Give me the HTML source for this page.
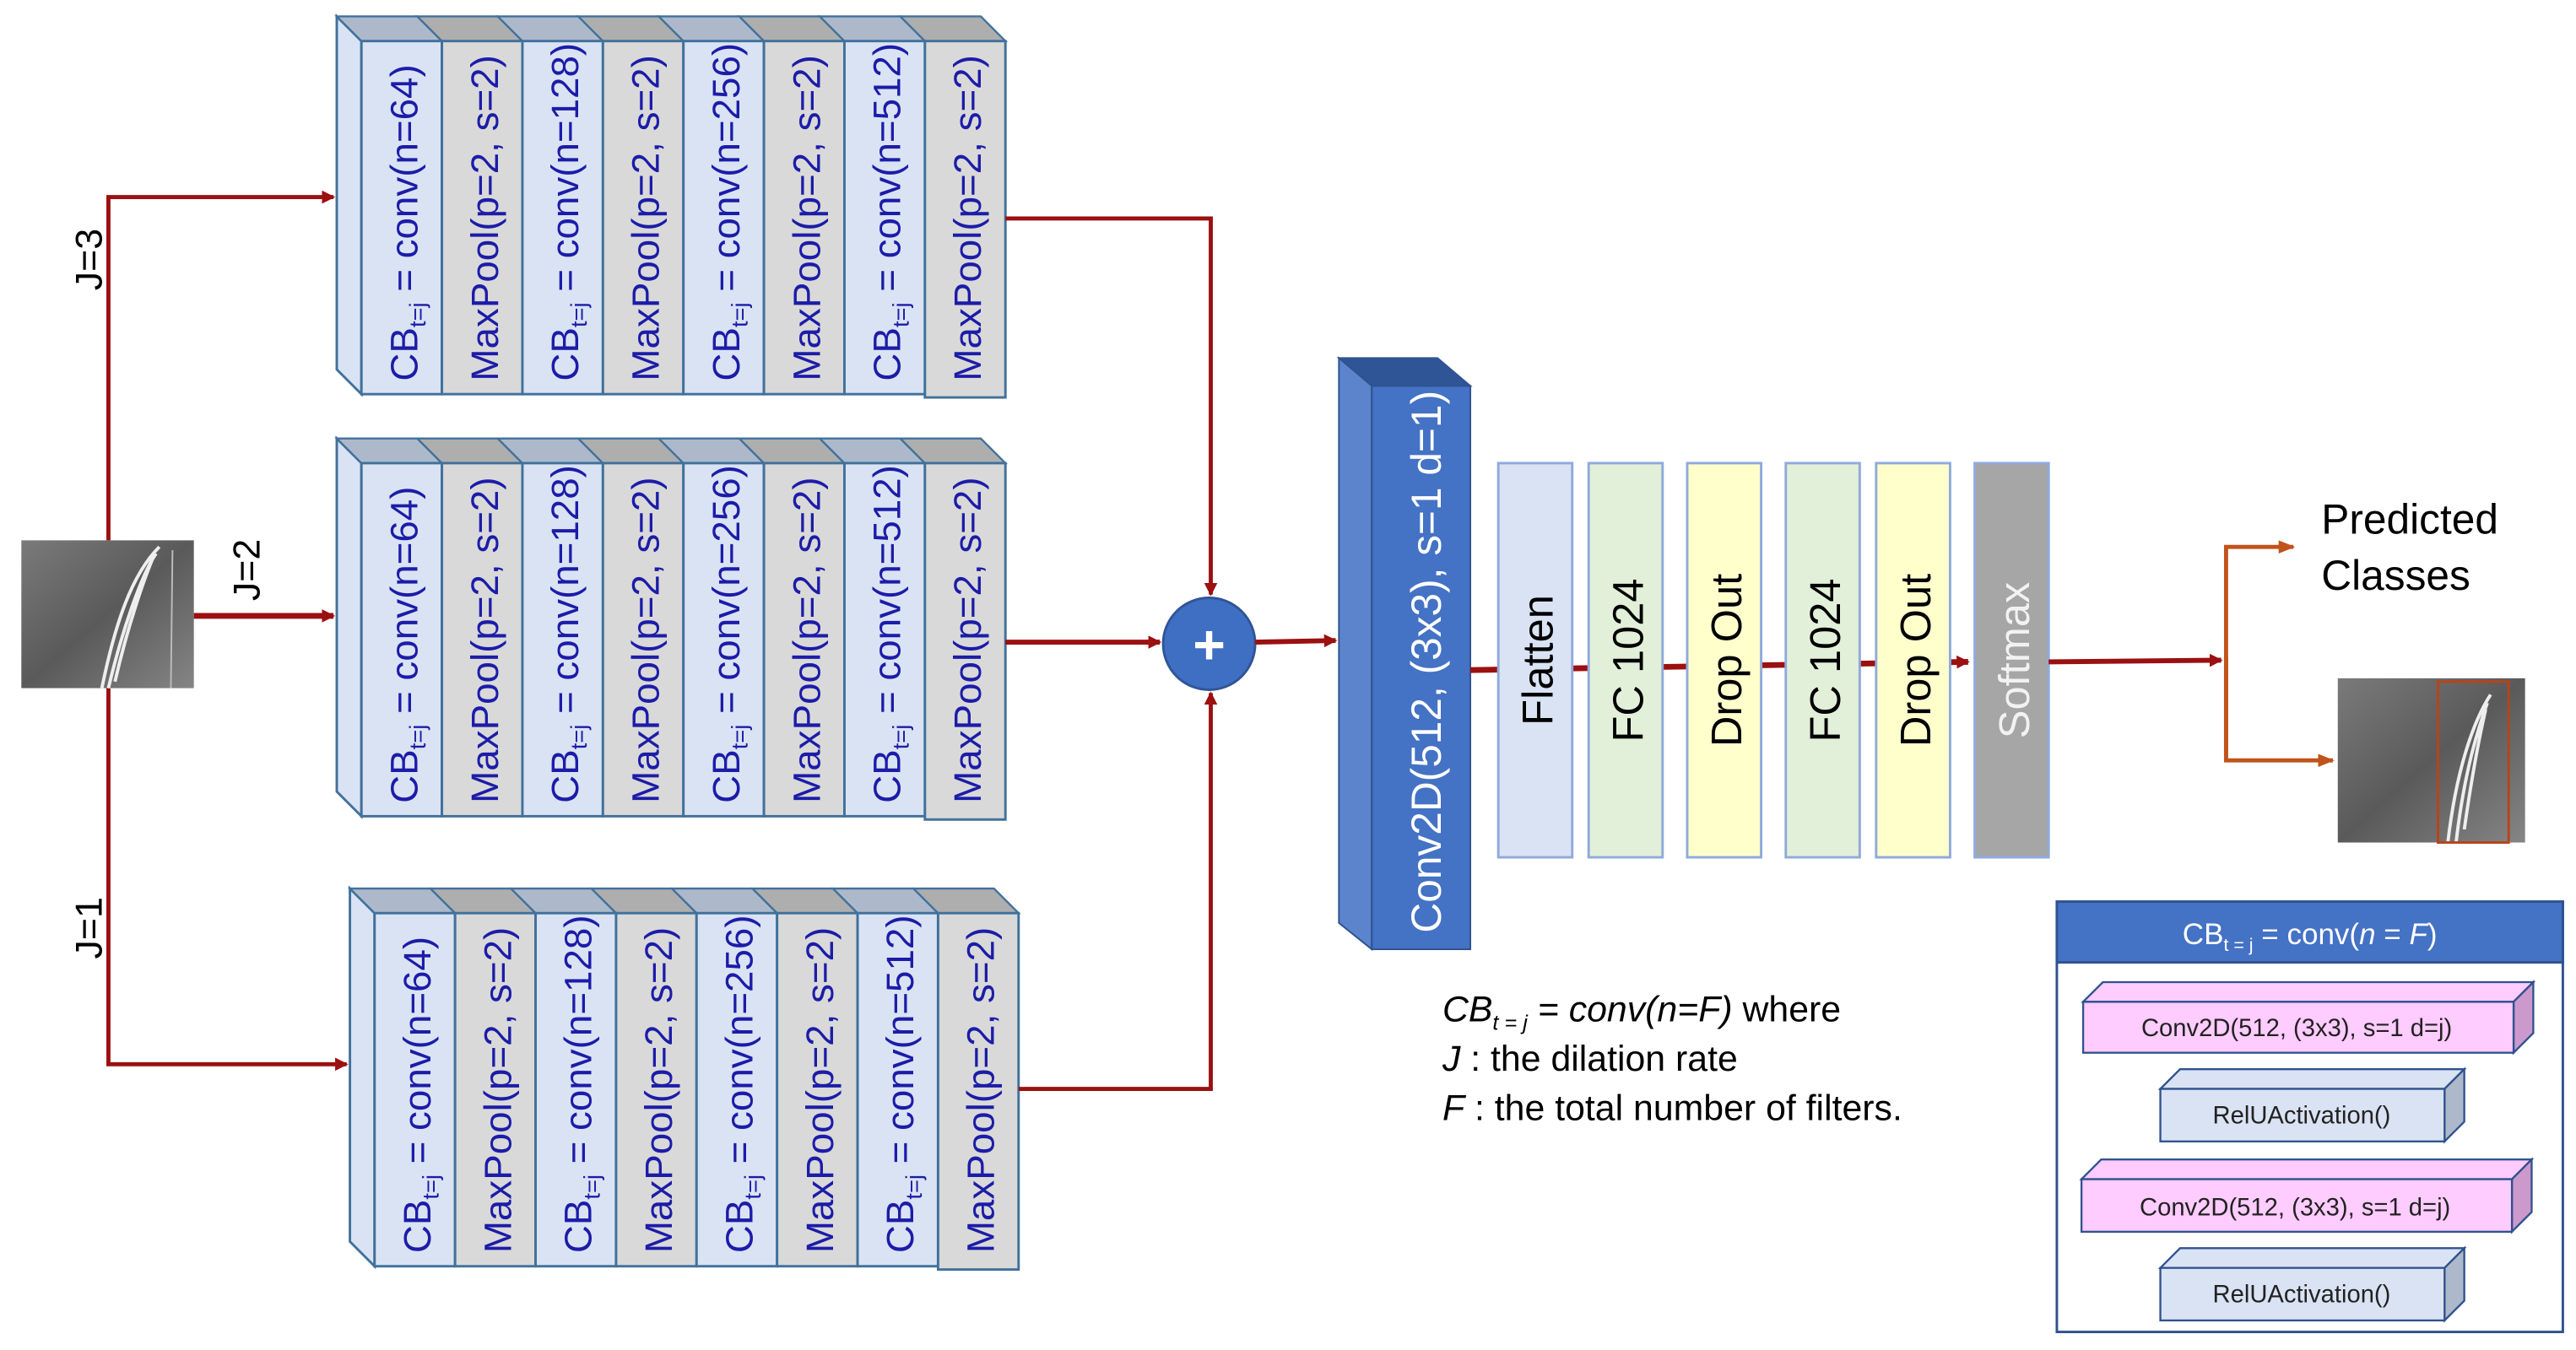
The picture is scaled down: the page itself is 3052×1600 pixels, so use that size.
<!DOCTYPE html>
<html><head><meta charset="utf-8"><style>
html,body{margin:0;padding:0;background:#fff;}
svg{display:block;}
text{font-family:"Liberation Sans",sans-serif;}
.s{font-size:23.5px;fill:#1c1ca8;}
.sub{font-size:14px;}
.cb{fill:#dae3f3;stroke:#41719c;stroke-width:1.5;}
.mp{fill:#d9d9d9;stroke:#41719c;stroke-width:1.5;}
.tcb{fill:#adb9ca;stroke:#41719c;stroke-width:1.2;}
.tmp{fill:#aeaeae;stroke:#41719c;stroke-width:1.2;}
.ln{stroke:#9b1010;stroke-width:2.5;fill:none;}
.or{stroke:#c0531b;stroke-width:2.5;fill:none;}
</style></head><body>
<svg width="3052" height="1600" viewBox="0 0 1568 822" preserveAspectRatio="none" xmlns="http://www.w3.org/2000/svg">
<defs>
<marker id="a" markerWidth="8" markerHeight="8" refX="7" refY="4" orient="auto" markerUnits="userSpaceOnUse"><path d="M0,0 L8,4 L0,8 Z" fill="#9b1010"/></marker>
<marker id="o" markerWidth="10" markerHeight="8" refX="9" refY="4" orient="auto" markerUnits="userSpaceOnUse"><path d="M0,0 L10,4 L0,8 Z" fill="#c0531b"/></marker>
<linearGradient id="img" x1="0" y1="0" x2="1" y2="1"><stop offset="0" stop-color="#7a7a7a"/><stop offset="0.5" stop-color="#5a5a5a"/><stop offset="1" stop-color="#858585"/></linearGradient>
</defs>

<path class="ln" d="M66,329 L66,120 L203,120" marker-end="url(#a)"/>
<path class="ln" d="M66,419 L66,648 L211,648" marker-end="url(#a)"/>
<path class="ln" d="M118,375 L203,375" style="stroke-width:3.5" marker-end="url(#a)"/>
<text x="62" y="158" font-size="23" transform="rotate(-90 62 158)" text-anchor="middle">J=3</text>
<text x="158" y="347" font-size="23" transform="rotate(-90 158 347)" text-anchor="middle">J=2</text>
<text x="62" y="565" font-size="23" transform="rotate(-90 62 565)" text-anchor="middle">J=1</text>

<rect x="13" y="329" width="105" height="90" fill="url(#img)"/>
<path d="M62,419 C70,380 80,350 97,333 M66,419 C74,385 86,350 95,337 M70,415 C78,380 88,352 93,340" stroke="#eee" stroke-width="2" fill="none"/>
<line x1="105" y1="335" x2="104" y2="419" stroke="#bbb" stroke-width="1"/>

<g transform="translate(205,10)">
<polygon points="0,0 15,15 15,230 0,215" fill="#dae3f3" stroke="#41719c" stroke-width="1.5"/>
<polygon class="tcb" points="0,0 49,0 64,15 15,15"/><polygon class="tmp" points="49,0 98,0 113,15 64,15"/>
<polygon class="tcb" points="98,0 147,0 162,15 113,15"/><polygon class="tmp" points="147,0 196,0 211,15 162,15"/>
<polygon class="tcb" points="196,0 245,0 260,15 211,15"/><polygon class="tmp" points="245,0 294,0 309,15 260,15"/>
<polygon class="tcb" points="294,0 343,0 358,15 309,15"/><polygon class="tmp" points="343,0 392,0 407,15 358,15"/>
<rect class="cb" x="15" y="15" width="49" height="215"/><rect class="mp" x="64" y="15" width="49" height="215"/>
<rect class="cb" x="113" y="15" width="49" height="215"/><rect class="mp" x="162" y="15" width="49" height="215"/>
<rect class="cb" x="211" y="15" width="49" height="215"/><rect class="mp" x="260" y="15" width="49" height="215"/>
<rect class="cb" x="309" y="15" width="49" height="215"/><rect class="mp" x="358" y="15" width="49" height="217"/>
<text class="s" x="49" y="222" transform="rotate(-90 49 222)">CB<tspan class="sub" dy="5">t=j</tspan><tspan dy="-5"> = conv(n=64)</tspan></text>
<text class="s" x="98" y="222" transform="rotate(-90 98 222)">MaxPool(p=2, s=2)</text>
<text class="s" x="147" y="222" transform="rotate(-90 147 222)">CB<tspan class="sub" dy="5">t=j</tspan><tspan dy="-5"> = conv(n=128)</tspan></text>
<text class="s" x="196" y="222" transform="rotate(-90 196 222)">MaxPool(p=2, s=2)</text>
<text class="s" x="245" y="222" transform="rotate(-90 245 222)">CB<tspan class="sub" dy="5">t=j</tspan><tspan dy="-5"> = conv(n=256)</tspan></text>
<text class="s" x="294" y="222" transform="rotate(-90 294 222)">MaxPool(p=2, s=2)</text>
<text class="s" x="343" y="222" transform="rotate(-90 343 222)">CB<tspan class="sub" dy="5">t=j</tspan><tspan dy="-5"> = conv(n=512)</tspan></text>
<text class="s" x="392" y="222" transform="rotate(-90 392 222)">MaxPool(p=2, s=2)</text>
</g>

<g transform="translate(205,267)">
<polygon points="0,0 15,15 15,230 0,215" fill="#dae3f3" stroke="#41719c" stroke-width="1.5"/>
<polygon class="tcb" points="0,0 49,0 64,15 15,15"/><polygon class="tmp" points="49,0 98,0 113,15 64,15"/>
<polygon class="tcb" points="98,0 147,0 162,15 113,15"/><polygon class="tmp" points="147,0 196,0 211,15 162,15"/>
<polygon class="tcb" points="196,0 245,0 260,15 211,15"/><polygon class="tmp" points="245,0 294,0 309,15 260,15"/>
<polygon class="tcb" points="294,0 343,0 358,15 309,15"/><polygon class="tmp" points="343,0 392,0 407,15 358,15"/>
<rect class="cb" x="15" y="15" width="49" height="215"/><rect class="mp" x="64" y="15" width="49" height="215"/>
<rect class="cb" x="113" y="15" width="49" height="215"/><rect class="mp" x="162" y="15" width="49" height="215"/>
<rect class="cb" x="211" y="15" width="49" height="215"/><rect class="mp" x="260" y="15" width="49" height="215"/>
<rect class="cb" x="309" y="15" width="49" height="215"/><rect class="mp" x="358" y="15" width="49" height="217"/>
<text class="s" x="49" y="222" transform="rotate(-90 49 222)">CB<tspan class="sub" dy="5">t=j</tspan><tspan dy="-5"> = conv(n=64)</tspan></text>
<text class="s" x="98" y="222" transform="rotate(-90 98 222)">MaxPool(p=2, s=2)</text>
<text class="s" x="147" y="222" transform="rotate(-90 147 222)">CB<tspan class="sub" dy="5">t=j</tspan><tspan dy="-5"> = conv(n=128)</tspan></text>
<text class="s" x="196" y="222" transform="rotate(-90 196 222)">MaxPool(p=2, s=2)</text>
<text class="s" x="245" y="222" transform="rotate(-90 245 222)">CB<tspan class="sub" dy="5">t=j</tspan><tspan dy="-5"> = conv(n=256)</tspan></text>
<text class="s" x="294" y="222" transform="rotate(-90 294 222)">MaxPool(p=2, s=2)</text>
<text class="s" x="343" y="222" transform="rotate(-90 343 222)">CB<tspan class="sub" dy="5">t=j</tspan><tspan dy="-5"> = conv(n=512)</tspan></text>
<text class="s" x="392" y="222" transform="rotate(-90 392 222)">MaxPool(p=2, s=2)</text>
</g>

<g transform="translate(213,541)">
<polygon points="0,0 15,15 15,230 0,215" fill="#dae3f3" stroke="#41719c" stroke-width="1.5"/>
<polygon class="tcb" points="0,0 49,0 64,15 15,15"/><polygon class="tmp" points="49,0 98,0 113,15 64,15"/>
<polygon class="tcb" points="98,0 147,0 162,15 113,15"/><polygon class="tmp" points="147,0 196,0 211,15 162,15"/>
<polygon class="tcb" points="196,0 245,0 260,15 211,15"/><polygon class="tmp" points="245,0 294,0 309,15 260,15"/>
<polygon class="tcb" points="294,0 343,0 358,15 309,15"/><polygon class="tmp" points="343,0 392,0 407,15 358,15"/>
<rect class="cb" x="15" y="15" width="49" height="215"/><rect class="mp" x="64" y="15" width="49" height="215"/>
<rect class="cb" x="113" y="15" width="49" height="215"/><rect class="mp" x="162" y="15" width="49" height="215"/>
<rect class="cb" x="211" y="15" width="49" height="215"/><rect class="mp" x="260" y="15" width="49" height="215"/>
<rect class="cb" x="309" y="15" width="49" height="215"/><rect class="mp" x="358" y="15" width="49" height="217"/>
<text class="s" x="49" y="222" transform="rotate(-90 49 222)">CB<tspan class="sub" dy="5">t=j</tspan><tspan dy="-5"> = conv(n=64)</tspan></text>
<text class="s" x="98" y="222" transform="rotate(-90 98 222)">MaxPool(p=2, s=2)</text>
<text class="s" x="147" y="222" transform="rotate(-90 147 222)">CB<tspan class="sub" dy="5">t=j</tspan><tspan dy="-5"> = conv(n=128)</tspan></text>
<text class="s" x="196" y="222" transform="rotate(-90 196 222)">MaxPool(p=2, s=2)</text>
<text class="s" x="245" y="222" transform="rotate(-90 245 222)">CB<tspan class="sub" dy="5">t=j</tspan><tspan dy="-5"> = conv(n=256)</tspan></text>
<text class="s" x="294" y="222" transform="rotate(-90 294 222)">MaxPool(p=2, s=2)</text>
<text class="s" x="343" y="222" transform="rotate(-90 343 222)">CB<tspan class="sub" dy="5">t=j</tspan><tspan dy="-5"> = conv(n=512)</tspan></text>
<text class="s" x="392" y="222" transform="rotate(-90 392 222)">MaxPool(p=2, s=2)</text>
</g>

<path class="ln" d="M612,133 L737,133 L737,362" marker-end="url(#a)"/>
<path class="ln" d="M620,663 L737,663 L737,422" marker-end="url(#a)"/>
<path class="ln" d="M612,391 L706,391" style="stroke-width:3" marker-end="url(#a)"/>
<circle cx="736" cy="392" r="28" fill="#3f6fc2" stroke="#2f5597" stroke-width="1.5"/>
<text x="736" y="404" font-size="34" font-weight="bold" fill="#fff" text-anchor="middle">+</text>
<path class="ln" d="M764,391 L813,390" style="stroke-width:3" marker-end="url(#a)"/>

<polygon points="815,218 875,218 895,235 835,235" fill="#2f5597" stroke="#2f528f" stroke-width="1"/>
<polygon points="815,218 835,235 835,578 815,562" fill="#5b84cc" stroke="#2f528f" stroke-width="1"/>
<rect x="835" y="235" width="60" height="343" fill="#4472c4" stroke="#2f528f" stroke-width="1"/>
<text x="877" y="568" font-size="25.5" fill="#fff" transform="rotate(-90 877 568)">Conv2D(512, (3x3), s=1 d=1)</text>

<path class="ln" d="M895,408 L1198,403" style="stroke-width:3.5" marker-end="url(#a)"/>
<rect x="912" y="282" width="45" height="240" fill="#dae3f3" stroke="#8faadc" stroke-width="1.5"/>
<rect x="967" y="282" width="45" height="240" fill="#e2f0d9" stroke="#8faadc" stroke-width="1.5"/>
<rect x="1027" y="282" width="45" height="240" fill="#ffffcc" stroke="#8faadc" stroke-width="1.5"/>
<rect x="1087" y="282" width="45" height="240" fill="#e2f0d9" stroke="#8faadc" stroke-width="1.5"/>
<rect x="1142" y="282" width="45" height="240" fill="#ffffcc" stroke="#8faadc" stroke-width="1.5"/>
<rect x="1202" y="282" width="45" height="240" fill="#a6a6a6" stroke="#8faadc" stroke-width="1.5"/>
<text x="945" y="402" font-size="26" text-anchor="middle" transform="rotate(-90 945 402)">Flatten</text>
<text x="1000" y="402" font-size="26" text-anchor="middle" transform="rotate(-90 1000 402)">FC 1024</text>
<text x="1060" y="402" font-size="26" text-anchor="middle" transform="rotate(-90 1060 402)">Drop Out</text>
<text x="1120" y="402" font-size="26" text-anchor="middle" transform="rotate(-90 1120 402)">FC 1024</text>
<text x="1175" y="402" font-size="26" text-anchor="middle" transform="rotate(-90 1175 402)">Drop Out</text>
<text x="1235" y="402" font-size="26" fill="#f2f2f2" text-anchor="middle" transform="rotate(-90 1235 402)">Softmax</text>

<path class="ln" d="M1247,403 L1352,402" style="stroke-width:3" marker-end="url(#a)"/>
<path class="or" d="M1355,463 L1355,333 L1396,333" marker-end="url(#o)"/>
<path class="or" d="M1355,400 L1355,463 L1420,463" marker-end="url(#o)"/>
<text x="1413" y="325" font-size="25.5">Predicted</text>
<text x="1413" y="359" font-size="25.5">Classes</text>
<rect x="1423" y="413" width="114" height="100" fill="url(#img)"/>
<path d="M1490,513 C1495,470 1505,440 1516,423 M1495,513 C1500,470 1508,445 1514,428 M1500,505 C1505,470 1510,445 1513,432" stroke="#eee" stroke-width="2" fill="none"/>
<rect x="1484" y="415" width="43" height="98" fill="none" stroke="#b5451b" stroke-width="1.5"/>

<text x="878" y="622" font-size="22"><tspan font-style="italic">CB</tspan><tspan font-style="italic" font-size="13" dy="5">t = j</tspan><tspan dy="-5" font-style="italic"> = conv(n=F)</tspan> where</text>
<text x="878" y="652" font-size="22"><tspan font-style="italic">J</tspan> : the dilation rate</text>
<text x="878" y="682" font-size="22"><tspan font-style="italic">F</tspan> : the total number of filters.</text>

<rect x="1252" y="549" width="308" height="262" fill="#fff" stroke="#2f528f" stroke-width="1.5"/>
<rect x="1252" y="549" width="308" height="37" fill="#4472c4" stroke="#2f528f" stroke-width="1.5"/>
<text x="1406" y="575" font-size="18" fill="#fff" text-anchor="middle">CB<tspan font-size="11" dy="4">t = j</tspan><tspan dy="-4"> = conv(</tspan><tspan font-style="italic">n</tspan> = <tspan font-style="italic">F</tspan>)</text>

<polygon points="1268,610 1280,598 1542,598 1530,610" fill="#ffccff" stroke="#2f528f" stroke-width="1.2"/>
<polygon points="1530,610 1542,598 1542,629 1530,641" fill="#cc99cc" stroke="#2f528f" stroke-width="1.2"/>
<rect x="1268" y="610" width="262" height="31" fill="#ffccff" stroke="#2f528f" stroke-width="1.2"/>
<text x="1398" y="631" font-size="15" text-anchor="middle" fill="#222">Conv2D(512, (3x3), s=1 d=j)</text>

<polygon points="1315,663 1327,651 1500,651 1488,663" fill="#dae3f3" stroke="#2f528f" stroke-width="1.2"/>
<polygon points="1488,663 1500,651 1500,683 1488,695" fill="#adb9ca" stroke="#2f528f" stroke-width="1.2"/>
<rect x="1315" y="663" width="173" height="32" fill="#dae3f3" stroke="#2f528f" stroke-width="1.2"/>
<text x="1401" y="684" font-size="15" text-anchor="middle" fill="#222">RelUActivation()</text>

<polygon points="1267,718 1279,706 1541,706 1529,718" fill="#ffccff" stroke="#2f528f" stroke-width="1.2"/>
<polygon points="1529,718 1541,706 1541,738 1529,750" fill="#cc99cc" stroke="#2f528f" stroke-width="1.2"/>
<rect x="1267" y="718" width="262" height="32" fill="#ffccff" stroke="#2f528f" stroke-width="1.2"/>
<text x="1397" y="740" font-size="15" text-anchor="middle" fill="#222">Conv2D(512, (3x3), s=1 d=j)</text>

<polygon points="1315,772 1327,760 1500,760 1488,772" fill="#dae3f3" stroke="#2f528f" stroke-width="1.2"/>
<polygon points="1488,772 1500,760 1500,792 1488,804" fill="#adb9ca" stroke="#2f528f" stroke-width="1.2"/>
<rect x="1315" y="772" width="173" height="32" fill="#dae3f3" stroke="#2f528f" stroke-width="1.2"/>
<text x="1401" y="793" font-size="15" text-anchor="middle" fill="#222">RelUActivation()</text>
</svg>
</body></html>
